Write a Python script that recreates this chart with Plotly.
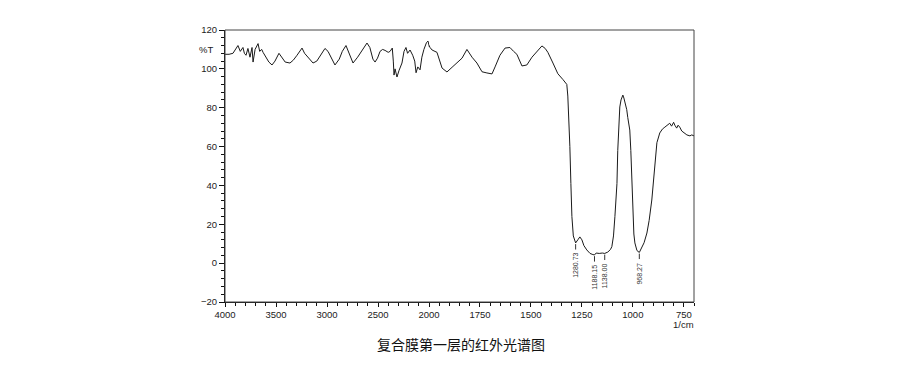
import numpy as np
import plotly.graph_objects as go

# ---------------- data ----------------
wavenumber = [
    4000, 3960, 3922, 3890, 3873, 3850, 3833, 3824, 3810, 3794, 3775, 3755, 3735, 3725,
    3705, 3676, 3660, 3640, 3627, 3600, 3570, 3539, 3510, 3471, 3440, 3410, 3363, 3330,
    3294, 3245, 3220, 3186, 3137, 3100, 3049, 3020, 2990, 2960, 2922, 2880, 2850, 2814,
    2780, 2745, 2700, 2650, 2608, 2580, 2550, 2529, 2505, 2480, 2455, 2431, 2400, 2382,
    2360, 2350, 2343, 2333, 2323, 2314, 2295, 2265, 2245, 2226, 2210, 2186, 2160, 2140,
    2127, 2110, 2088, 2070, 2050, 2025, 2010, 1995, 1985, 1961, 1936, 1912, 1887, 1863,
    1838, 1814, 1789, 1765, 1740, 1716, 1691, 1676, 1652, 1627, 1603, 1585, 1569, 1544,
    1520, 1495, 1471, 1446, 1430, 1417, 1392, 1368, 1343, 1324, 1319, 1314, 1309, 1304,
    1299, 1292, 1284, 1280.73, 1270, 1260, 1250, 1240, 1226, 1210, 1196, 1188.15, 1180,
    1165, 1150, 1138, 1123, 1110, 1103, 1095, 1088, 1078, 1074, 1068, 1064, 1058, 1049,
    1044, 1039, 1030, 1025, 1015, 1010, 1005, 1000, 995, 990, 980, 968.27, 956, 945, 931,
    920, 907, 892, 887, 882, 868, 855, 843, 830, 819, 810, 800, 794, 785, 778, 770, 760,
    750, 735, 720, 711, 700,
]
transmittance = [
    107.5, 107.5, 108, 110.5, 112, 109, 110, 111, 108, 107, 110.5, 106, 111, 103.5,
    110, 113, 109, 110, 108.5, 106, 103.5, 102, 104, 108, 106, 103.5, 103, 104.5,
    107, 110.7, 108, 106, 103, 104, 108.5, 110.5, 109, 106, 102, 105, 109, 112,
    108, 103, 106, 110, 113.3, 111, 105, 103.5, 105.5, 109, 110, 109.5, 108.5, 109,
    110.7, 104, 96.8, 100, 97.5, 95.8, 99, 103, 109, 111, 108, 109.7, 107, 104,
    98, 101, 99.5, 106, 110, 113.5, 114.3, 111, 109.7, 108.5, 100.4, 98.4, 100.8, 103.3,
    105.5, 110, 106, 103, 98.5, 97.9, 97.4, 101, 107, 110.7, 111, 109, 107.5, 101.5,
    102, 106, 109, 111.8, 110.5, 108.5, 103, 97.5, 94.5, 92, 86, 74, 60, 41,
    24, 14, 11, 10.4, 12, 13.5, 12, 9, 6.8, 5, 4.4, 4.2, 5.2,
    5, 5.2, 5.0, 5.7, 7, 8.5, 14, 24, 41, 58, 72, 80.4, 84, 86.5,
    85, 83, 79, 75, 68.5, 58, 41, 24, 15, 10.4, 6.5, 5.5, 7.8, 10.5, 15.5,
    22, 32.5, 49.5, 58, 62, 67, 69, 70, 71, 72, 70.5, 72.5, 71, 69.5, 71, 70, 68,
    67, 66, 65.5, 66, 65.5,
]
peak_positions = [1280.73, 1188.15, 1138.00, 968.27]
peak_labels = ["1280.73", "1188.15", "1138.00", "968.27"]

x_ticks_high = [4000, 3500, 3000, 2500]
x_ticks_low = [2000, 1750, 1500, 1250, 1000, 750]
y_ticks = [-20, 0, 20, 40, 60, 80, 100, 120]

title_text = "复合膜第一层的红外光谱图"
x_unit = "1/cm"
y_unit = "%T"

# ---------------- figure ----------------
wn = np.array(wavenumber, dtype=float)
tr = np.array(transmittance, dtype=float)

hi = wn >= 1990
lo = wn <= 2015

LINE = "#1a1a1a"
TICKFONT = dict(family="Liberation Sans, Arial, sans-serif", size=9.5, color="#222")

fig = go.Figure()
fig.add_trace(go.Scatter(x=wn[hi], y=tr[hi], mode="lines", xaxis="x", yaxis="y",
                         line=dict(color=LINE, width=1), showlegend=False, hoverinfo="skip"))
fig.add_trace(go.Scatter(x=wn[lo], y=tr[lo], mode="lines", xaxis="x2", yaxis="y",
                         line=dict(color=LINE, width=1), showlegend=False, hoverinfo="skip"))

# peak markers: short dash below the curve + vertical label
order = np.argsort(wn)
peak_vals = np.interp(peak_positions, wn[order], tr[order])
dx, dy = [], []
for p, v in zip(peak_positions, peak_vals):
    dx += [p, p, None]
    dy += [v - 0.6, v - 3.4, None]
fig.add_trace(go.Scatter(x=dx, y=dy, mode="lines", xaxis="x2", yaxis="y",
                         line=dict(color="#333", width=1), showlegend=False, hoverinfo="skip"))

annotations = []
for p, v, lab in zip(peak_positions, peak_vals, peak_labels):
    annotations.append(dict(x=p, y=v - 4.0, xref="x2", yref="y", text=lab, textangle=-90,
                            showarrow=False, xanchor="center", yanchor="top",
                            font=dict(family="Liberation Sans, Arial, sans-serif", size=7, color="#333")))

annotations.append(dict(x=0, y=110, xref="paper", yref="y", text=y_unit, showarrow=False,
                        xanchor="right", yanchor="middle", xshift=-10,
                        font=dict(family="Liberation Sans, Arial, sans-serif", size=9.5, color="#222")))
annotations.append(dict(x=750, y=0, xref="x2", yref="paper", text=x_unit, showarrow=False,
                        xanchor="center", yanchor="middle", yshift=-22,
                        font=dict(family="Liberation Sans, Arial, sans-serif", size=9.5, color="#222")))
annotations.append(dict(x=0.503, y=0, xref="paper", yref="paper", text=title_text, showarrow=False,
                        xanchor="center", yanchor="middle", yshift=-42,
                        font=dict(family="Noto Sans CJK SC, sans-serif", size=14, color="#111")))

split = 0.435
common_x = dict(showgrid=False, zeroline=False, showline=True, linecolor="#111", linewidth=1,
                ticks="outside", ticklen=4, tickcolor="#111", tickfont=TICKFONT, anchor="y")

fig.update_layout(
    width=900, height=372,
    margin=dict(l=217, r=214, t=22, b=78),
    paper_bgcolor="white", plot_bgcolor="white",
    xaxis=dict(domain=[0, split], range=[4000, 2000], tickvals=x_ticks_high,
               minor=dict(ticks="outside", ticklen=3, tickcolor="#111", dtick=100, tick0=0),
               **common_x),
    xaxis2=dict(domain=[split, 1], range=[2000, 700], tickvals=x_ticks_low,
                minor=dict(ticks="outside", ticklen=3, tickcolor="#111", dtick=50, tick0=0),
                **common_x),
    yaxis=dict(range=[-20, 120], tickvals=y_ticks, showgrid=False, zeroline=False,
               showline=True, linecolor="#111", linewidth=1, ticks="outside", ticklen=5,
               tickcolor="#111", tickfont=TICKFONT,
               minor=dict(ticks="outside", ticklen=3, tickcolor="#111", dtick=4, tick0=0)),
    annotations=annotations,
    shapes=[dict(type="rect", xref="paper", yref="paper", x0=0, x1=1, y0=0, y1=1,
                 line=dict(color="#444", width=1), layer="above")],
)

fig.write_html("out.html")
